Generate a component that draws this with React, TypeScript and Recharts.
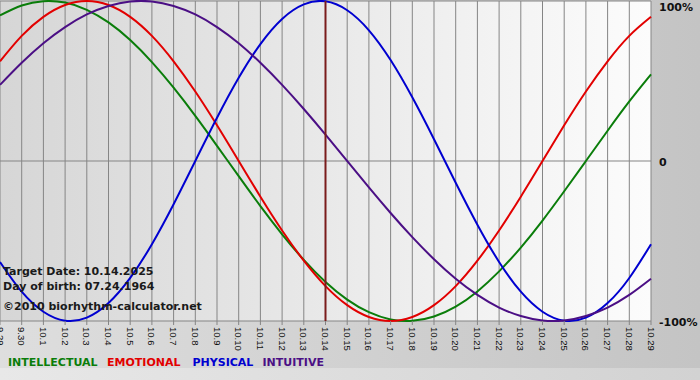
import { LineChart, Line, XAxis, YAxis, CartesianGrid, ReferenceLine } from 'recharts';

const dates = [
  '9.29', '9.30', '10.1', '10.2', '10.3', '10.4', '10.5', '10.6', '10.7', '10.8', '10.9',
  '10.10', '10.11', '10.12', '10.13', '10.14', '10.15', '10.16', '10.17', '10.18', '10.19',
  '10.20', '10.21', '10.22', '10.23', '10.24', '10.25', '10.26', '10.27', '10.28', '10.29'
];

const intellectual = [
  91.0, 97.2, 99.9, 99.0, 94.5, 86.6, 75.6, 61.8, 45.8, 28.2, 9.5, -9.5, -28.2, -45.8, -61.8,
  -75.6, -86.6, -94.5, -99.0, -99.9, -97.2, -91.0, -81.5, -69.0, -54.1, -37.2, -18.9, 0, 18.9, 37.2, 54.1
];
const emotional = [
  62.3, 78.2, 90.1, 97.5, 100, 97.5, 90.1, 78.2, 62.3, 43.4, 22.3, 0, -22.3, -43.4, -62.3,
  -78.2, -90.1, -97.5, -100, -97.5, -90.1, -78.2, -62.3, -43.4, -22.3, 0, 22.3, 43.4, 62.3, 78.2, 90.1
];
const physical = [
  -63.1, -81.7, -94.2, -99.8, -97.9, -88.8, -73.1, -52.0, -27.0, 0, 27.0, 52.0, 73.1, 88.8, 97.9,
  99.8, 94.2, 81.7, 63.1, 39.8, 13.6, -13.6, -39.8, -63.1, -81.7, -94.2, -99.8, -97.9, -88.8, -73.1, -52.0
];
const intuitive = [
  47.6, 61.4, 73.6, 83.7, 91.6, 96.9, 99.7, 99.7, 96.9, 91.6, 83.7, 73.6, 61.4, 47.6, 32.5,
  16.5, 0, -16.5, -32.5, -47.6, -61.4, -73.6, -83.7, -91.6, -96.9, -99.7, -99.7, -96.9, -91.6, -83.7, -73.6
];

const yTicks = [100, 0, -100];
const targetDate = '10.14';
const infoLines = ['Target Date: 10.14.2025', 'Day of birth: 07.24.1964', '\u00a92010 biorhythm-calculator.net'];

const series = [
  { key: 'intellectual', label: 'INTELLECTUAL', color: '#0a7d0a' },
  { key: 'emotional', label: 'EMOTIONAL', color: '#e20000' },
  { key: 'physical', label: 'PHYSICAL', color: '#0000d0' },
  { key: 'intuitive', label: 'INTUITIVE', color: '#4b0f85' }
];

const rows = dates.map((date, i) => ({
  date,
  intellectual: intellectual[i],
  emotional: emotional[i],
  physical: physical[i],
  intuitive: intuitive[i]
}));

const boldFont = '"DejaVu Sans", Verdana, sans-serif';

const DateTick = ({ x, y, payload }: any) => (
  <text
    x={x}
    y={y}
    transform={`rotate(90, ${x}, ${y})`}
    textAnchor="start"
    dominantBaseline="central"
    fontFamily='"Liberation Sans", Arial, sans-serif'
    fontSize={9.5}
    fill="#111"
  >
    {payload.value}
  </text>
);

const PctTick = ({ x, y, payload }: any) => {
  const v = payload.value;
  const text = v === 0 ? '0' : `${v}%`;
  return (
    <text
      x={x}
      y={v === 100 ? y + 6 : y + 1.5}
      textAnchor="start"
      dominantBaseline="central"
      fontFamily={boldFont}
      fontWeight="bold"
      fontSize={11}
      fill="#111"
    >
      {text}
    </text>
  );
};

const legendX = [8, 107, 192.5, 262.5];
const infoTop = [265, 280, 300];

export default function App() {
  return (
    <div
      style={{
        position: 'absolute',
        left: 0,
        top: 0,
        width: 700,
        height: 380,
        overflow: 'hidden',
        background: 'linear-gradient(to right, #dedede, #c4c4c4)'
      }}
    >
      <div
        style={{
          position: 'absolute', left: 0, top: 368, width: 700, height: 12,
          background: 'linear-gradient(to right, #e8e8e8, #d2d2d2)'
        }}
      />
      <div style={{ position: 'absolute', left: 0, top: 0 }}>
        <LineChart width={700} height={380} data={rows} margin={{ top: 1, right: 0, bottom: 0, left: 0 }}>
          <defs>
            <linearGradient id="plotBg" x1="0" y1="0" x2="1" y2="0">
              <stop offset="0%" stopColor="#d6d6d6" />
              <stop offset="100%" stopColor="#fcfcfc" />
            </linearGradient>
          </defs>
          <CartesianGrid fill="url(#plotBg)" stroke="#858585" />
          <XAxis
            dataKey="date"
            interval={0}
            height={59}
            tickSize={4}
            tickMargin={2}
            axisLine={false}
            tickLine={{ stroke: '#858585' }}
            tick={(p: any) => <DateTick {...p} />}
          />
          <YAxis
            orientation="right"
            width={49}
            domain={[-100, 100]}
            ticks={yTicks}
            interval={0}
            axisLine={false}
            tickLine={false}
            tick={(p: any) => <PctTick {...p} />}
          />
          {series.map((s) => (
            <Line
              key={s.key}
              type="natural"
              dataKey={s.key}
              stroke={s.color}
              strokeWidth={2}
              dot={false}
              activeDot={false}
              isAnimationActive={false}
            />
          ))}
          <ReferenceLine x={targetDate} stroke="#7a1c1c" strokeWidth={2} />
        </LineChart>
      </div>
      {infoLines.map((t, i) => (
        <div
          key={t}
          style={{
            position: 'absolute', left: 3, top: infoTop[i], lineHeight: '13px',
            fontFamily: boldFont, fontWeight: 'bold', fontSize: 11, color: '#1a1a1a', whiteSpace: 'nowrap'
          }}
        >
          {t}
        </div>
      ))}
      {series.map((s, i) => (
        <div
          key={s.key}
          style={{
            position: 'absolute', left: legendX[i], top: 355.5, lineHeight: '13px',
            fontFamily: boldFont, fontWeight: 'bold', fontSize: 11, color: s.color, whiteSpace: 'nowrap'
          }}
        >
          {s.label}
        </div>
      ))}
    </div>
  );
}
